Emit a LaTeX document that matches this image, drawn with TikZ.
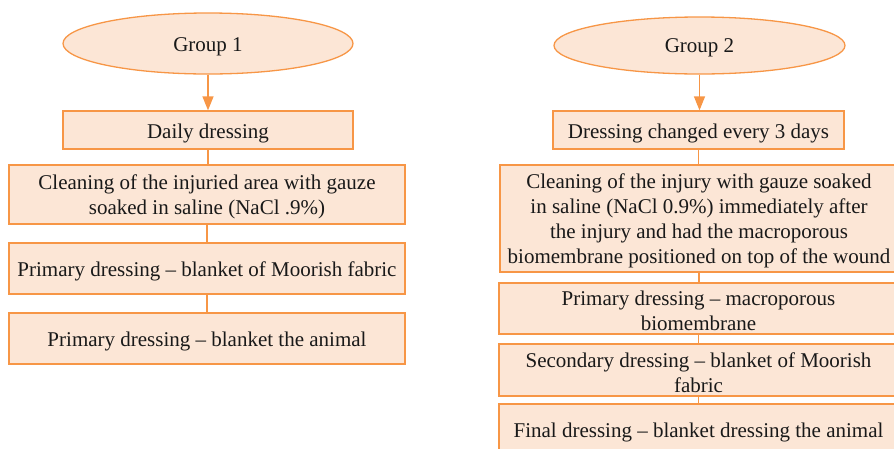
\documentclass[tikz,border=0pt]{standalone}
\usepackage{fontspec}
\setmainfont{Liberation Serif}
\usetikzlibrary{shapes.geometric, arrows.meta}
\definecolor{boxfill}{HTML}{FCE6D6}
\definecolor{boxline}{HTML}{F79646}
\begin{document}
\begin{tikzpicture}[x=1pt,y=-1pt,
  txt/.style={font=\fontsize{21}{25}\selectfont, text=black!90, align=center, inner sep=0pt},
  box/.style={draw=boxline, fill=boxfill, line width=1.3pt, rectangle, inner sep=0pt},
  oval/.style={draw=boxline, fill=boxfill, line width=1.3pt, ellipse, inner sep=0pt},
  link/.style={draw=boxline, line width=1.3pt},
  arr/.style={link, -{Triangle[length=14pt,width=11pt]}}]
\useasboundingbox (0,0) rectangle (894,448);
% Left column shapes
\node[oval, minimum width=290pt, minimum height=61pt] (g1) at (208,43.5) {};
\node[box, minimum width=290pt, minimum height=38pt] (d1) at (208,130) {};
\node[box, minimum width=396pt, minimum height=59pt] (c1) at (207,194.5) {};
\node[box, minimum width=396pt, minimum height=51pt] (p1) at (207,268.5) {};
\node[box, minimum width=396pt, minimum height=51pt] (f1) at (207,338.5) {};
% Right column shapes
\node[oval, minimum width=291pt, minimum height=57pt] (g2) at (699.5,45.5) {};
\node[box, minimum width=291pt, minimum height=38pt] (d2) at (698.5,130) {};
\node[box, minimum width=398pt, minimum height=107pt] (c2) at (699,218.5) {};
\node[box, minimum width=399pt, minimum height=51pt] (p2) at (698.5,308.5) {};
\node[box, minimum width=399pt, minimum height=52pt] (s2) at (698.5,370) {};
\node[box, minimum width=399pt, minimum height=51pt] (f2) at (698.5,429.5) {};
% Texts
\node[txt] (g1t) at (208,46.5) {Group 1};
\node[txt] (d1t) at (208,133) {Daily dressing};
\node[txt] (c1t) at (207,197) {Cleaning of the injuried area with gauze\\soaked in saline (NaCl .9\%)};
\node[txt] (p1t) at (207,271) {Primary dressing -- blanket of Moorish fabric};
\node[txt] (f1t) at (207,341) {Primary dressing -- blanket the animal};
\node[txt] (g2t) at (699.5,48) {Group 2};
\node[txt] (d2t) at (698.5,133) {Dressing changed every 3 days};
\node[txt] (c2t) at (699,221) {Cleaning of the injury with gauze soaked\\in saline (NaCl 0.9\%) immediately after\\the injury and had the macroporous\\biomembrane positioned on top of the wound};
\node[txt] (p2t) at (698.5,311) {Primary dressing -- macroporous\\biomembrane};
\node[txt] (s2t) at (698.5,372.5) {Secondary dressing -- blanket of Moorish\\fabric};
\node[txt] (f2t) at (698.5,432) {Final dressing -- blanket dressing the animal};
% Connectors
\draw[arr] (g1.south) -- (g1.south |- d1.north);
\draw[link] (d1.south) -- (d1.south |- c1.north);
\draw[link] (c1.south) -- (c1.south |- p1.north);
\draw[link] (p1.south) -- (p1.south |- f1.north);
\draw[arr] (g2.south) -- (g2.south |- d2.north);
\draw[link] (d2.south) -- (d2.south |- c2.north);
\draw[link] (c2.south) -- (c2.south |- p2.north);
\draw[link] (p2.south) -- (p2.south |- s2.north);
\draw[link] (s2.south) -- (s2.south |- f2.north);
\end{tikzpicture}
\end{document}
